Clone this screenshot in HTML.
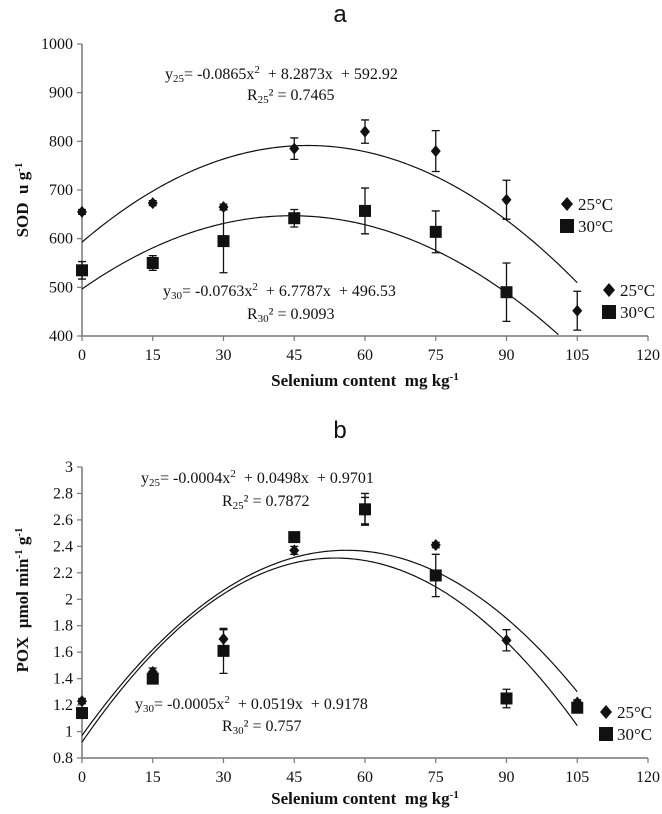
<!DOCTYPE html>
<html><head><meta charset="utf-8"><style>
html,body{margin:0;padding:0;background:#fff;}
svg{display:block;font-family:"Liberation Serif",serif;}
.tick{font-size:16px;fill:#111;}
.eq{font-size:16px;fill:#111;}
.lg{font-size:17px;fill:#111;font-family:"Liberation Serif",serif;}
.ttl{font-size:17px;font-weight:bold;fill:#111;}
.pl{font-family:"Liberation Sans",sans-serif;font-size:24px;fill:#111;}
</style></head><body>
<svg id="fig" width="662" height="814" viewBox="0 0 662 814"></svg>
<script>
// ---- Chart a (SOD) data ----
const xCats = [0, 15, 30, 45, 60, 75, 90, 105];
const sod25 = [655, 673, 665, 785, 820, 780, 680, 452];
const sod25Err = [5, 5, 6, 22, 24, 42, 40, 40];
const sod30 = [535, 550, 595, 642, 657, 614, 490, null];
const sod30Err = [18, 15, 65, 18, 47, 43, 60, 0];
const sodTicks = [400, 500, 600, 700, 800, 900, 1000];
const sodFit25 = [-0.0865, 8.2873, 592.92];
const sodFit30 = [-0.0763, 6.7787, 496.53];
// ---- Chart b (POX) data ----
const pox25 = [1.23, 1.45, 1.70, 2.37, 2.67, 2.41, 1.69, 1.22];
const pox25Err = [0.02, 0.03, 0.07, 0.03, 0.10, 0.02, 0.08, 0.02];
const pox30 = [1.14, 1.40, 1.61, 2.47, 2.68, 2.18, 1.25, 1.18];
const pox30Err = [0.02, 0.03, 0.17, 0.02, 0.12, 0.16, 0.07, 0.03];
const poxTicks = [0.8, 1, 1.2, 1.4, 1.6, 1.8, 2, 2.2, 2.4, 2.6, 2.8, 3];
const poxTickLabels = ["0.8","1","1.2","1.4","1.6","1.8","2","2.2","2.4","2.6","2.8","3"];
const poxFit25 = [-0.000446, 0.04998, 0.97];
const poxFit30 = [-0.000482, 0.0518, 0.92];
const xTicks = [0, 15, 30, 45, 60, 75, 90, 105, 120];

const NS = "http://www.w3.org/2000/svg";
const svg = document.getElementById("fig");
function el(tag, attrs, parent, txt){
  const e = document.createElementNS(NS, tag);
  for (const k in attrs) e.setAttribute(k, attrs[k]);
  if (txt !== undefined) e.textContent = txt;
  (parent || svg).appendChild(e);
  return e;
}
function chart(cfg){
  const g = el("g", {});
  
  
  const X = v => cfg.x0 + (v - 0) / 120 * (cfg.x1 - cfg.x0);
  const Y = v => cfg.yb + (v - cfg.ymin) / (cfg.ymax - cfg.ymin) * (cfg.yt - cfg.yb);
  const ax = el("path", {d:`M${X(0)},${Y(cfg.ymax)}V${Y(cfg.ymin)}H${X(120)}`, stroke:"#777", "stroke-width":1.5, fill:"none"}, g);
  
  
  cfg.yTicks.forEach((v, i) => {
    el("line", {x1:X(0)-5, x2:X(0), y1:Y(v), y2:Y(v), stroke:"#777", "stroke-width":1.2}, g);
    const t = el("text", {x:X(0)-9, y:Y(v)+5, "text-anchor":"end", class:"tick"}, g, cfg.yLabels[i]);
    
    
  });
  xTicks.forEach(v => {
    el("line", {x1:X(v), x2:X(v), y1:Y(cfg.ymin), y2:Y(cfg.ymin)+5, stroke:"#777", "stroke-width":1.2}, g);
    const t = el("text", {x:X(v), y:Y(cfg.ymin)+24, "text-anchor":"middle", class:"tick"}, g, String(v));
    
    
  });
  function fit(c, xmax, name){
    let d = "";
    for (let x = 0; x <= xmax + 1e-9; x += 0.5){
      let y = c[0]*x*x + c[1]*x + c[2];
      if (y < cfg.ymin) break;
      d += (d ? "L" : "M") + X(x).toFixed(2) + "," + Y(y).toFixed(2);
    }
    const p = el("path", {d, stroke:"#111", "stroke-width":1.2, fill:"none"}, g);
    
    
  }
  fit(cfg.fit25, 105, "fit-curve-25c");
  fit(cfg.fit30, 105, "fit-curve-30c");
  function series(vals, errs, shape, name){
    vals.forEach((v, i) => {
      if (v === null) return;
      const cx = X(xCats[i]), cy = Y(v);
      const e = errs[i];
      const eb = el("path", {d:`M${cx},${Y(v+e)}V${Y(v-e)}M${cx-4},${Y(v+e)}H${cx+4}M${cx-4},${Y(v-e)}H${cx+4}`, stroke:"#111", "stroke-width":1.3, fill:"none"}, g);
      
      
      let m;
      if (shape === "d") m = el("path", {d:`M${cx},${cy-6}L${cx+5},${cy}L${cx},${cy+6}L${cx-5},${cy}Z`, fill:"#111"}, g);
      else m = el("rect", {x:cx-6, y:cy-6, width:12, height:12, fill:"#111"}, g);
      
      
    });
  }
  series(cfg.s30, cfg.e30, "s", "point-30c");
  series(cfg.s25, cfg.e25, "d", "point-25c");
  const pt = el("text", {x:340, y:cfg.panelY, "text-anchor":"middle", class:"pl"}, g, cfg.panel);
  
  
  const xt = el("text", {x:365, y:cfg.xTitleY, "text-anchor":"middle", class:"ttl"}, g);
  
  
  xt.innerHTML = 'Selenium content&#160;&#160;mg kg<tspan dy="-6" font-size="11">-1</tspan>';
  const yt = el("text", {transform:`translate(${cfg.yTitleX},${cfg.yTitleY}) rotate(-90)`, "text-anchor":"middle", class:"ttl"}, g);
  
  
  yt.innerHTML = cfg.yTitle;
  cfg.eqs.forEach(q => {
    const t = el("text", {x:q[0], y:q[1], class:"eq"}, g);
    
    
    t.innerHTML = q[2];
  });
  cfg.legends.forEach(L => {
    const lg = el("g", {}, g);
    
    
    const [lx, ly] = L;
    el("path", {d:`M${lx},${ly-7}L${lx+6},${ly}L${lx},${ly+7}L${lx-6},${ly}Z`, fill:"#111"}, lg);
    el("text", {x:lx+11, y:ly+6, class:"lg"}, lg, "25°C");
    el("rect", {x:lx-7, y:ly+15, width:14, height:14, fill:"#111"}, lg);
    el("text", {x:lx+11, y:ly+28, class:"lg"}, lg, "30°C");
  });
}
chart({
  name:"sod-chart", panel:"a", panelY:22, x0:82, x1:648, yb:336, yt:44, ymin:400, ymax:1000,
  yTicks:sodTicks, yLabels:sodTicks.map(String),
  s25:sod25, e25:sod25Err, s30:sod30, e30:sod30Err, fit25:sodFit25, fit30:sodFit30,
  xTitleY:386, yTitleX:28, yTitleY:200,
  yTitle:'SOD&#160;&#160;u g<tspan dy="-6" font-size="11">-1</tspan>',
  eqs:[[165,79,'y<tspan font-size="11" dy="3">25</tspan><tspan dy="-3">= -0.0865x</tspan><tspan font-size="11" dy="-6">2</tspan><tspan dy="6">&#160;&#160;+ 8.2873x&#160;&#160;+ 592.92</tspan>'],
       [247,100,'R<tspan font-size="11" dy="3">25</tspan><tspan dy="-3">² = 0.7465</tspan>'],
       [163,296,'y<tspan font-size="11" dy="3">30</tspan><tspan dy="-3">= -0.0763x</tspan><tspan font-size="11" dy="-6">2</tspan><tspan dy="6">&#160;&#160;+ 6.7787x&#160;&#160;+ 496.53</tspan>'],
       [247,319,'R<tspan font-size="11" dy="3">30</tspan><tspan dy="-3">² = 0.9093</tspan>']],
  legends:[[567,204],[609,290]]
});
chart({
  name:"pox-chart", panel:"b", panelY:438, x0:82, x1:648, yb:758, yt:467, ymin:0.8, ymax:3,
  yTicks:poxTicks, yLabels:poxTickLabels,
  s25:pox25, e25:pox25Err, s30:pox30, e30:pox30Err, fit25:poxFit25, fit30:poxFit30,
  xTitleY:804, yTitleX:28, yTitleY:600,
  yTitle:'POX&#160;&#160;μmol min<tspan dy="-6" font-size="11">-1</tspan><tspan dy="6"> g</tspan><tspan dy="-6" font-size="11">-1</tspan>',
  eqs:[[141,483,'y<tspan font-size="11" dy="3">25</tspan><tspan dy="-3">= -0.0004x</tspan><tspan font-size="11" dy="-6">2</tspan><tspan dy="6">&#160;&#160;+ 0.0498x&#160;&#160;+ 0.9701</tspan>'],
       [222,506,'R<tspan font-size="11" dy="3">25</tspan><tspan dy="-3">² = 0.7872</tspan>'],
       [135,709,'y<tspan font-size="11" dy="3">30</tspan><tspan dy="-3">= -0.0005x</tspan><tspan font-size="11" dy="-6">2</tspan><tspan dy="6">&#160;&#160;+ 0.0519x&#160;&#160;+ 0.9178</tspan>'],
       [222,731,'R<tspan font-size="11" dy="3">30</tspan><tspan dy="-3">² = 0.757</tspan>']],
  legends:[[606,712]]
});
</script>
</body></html>
